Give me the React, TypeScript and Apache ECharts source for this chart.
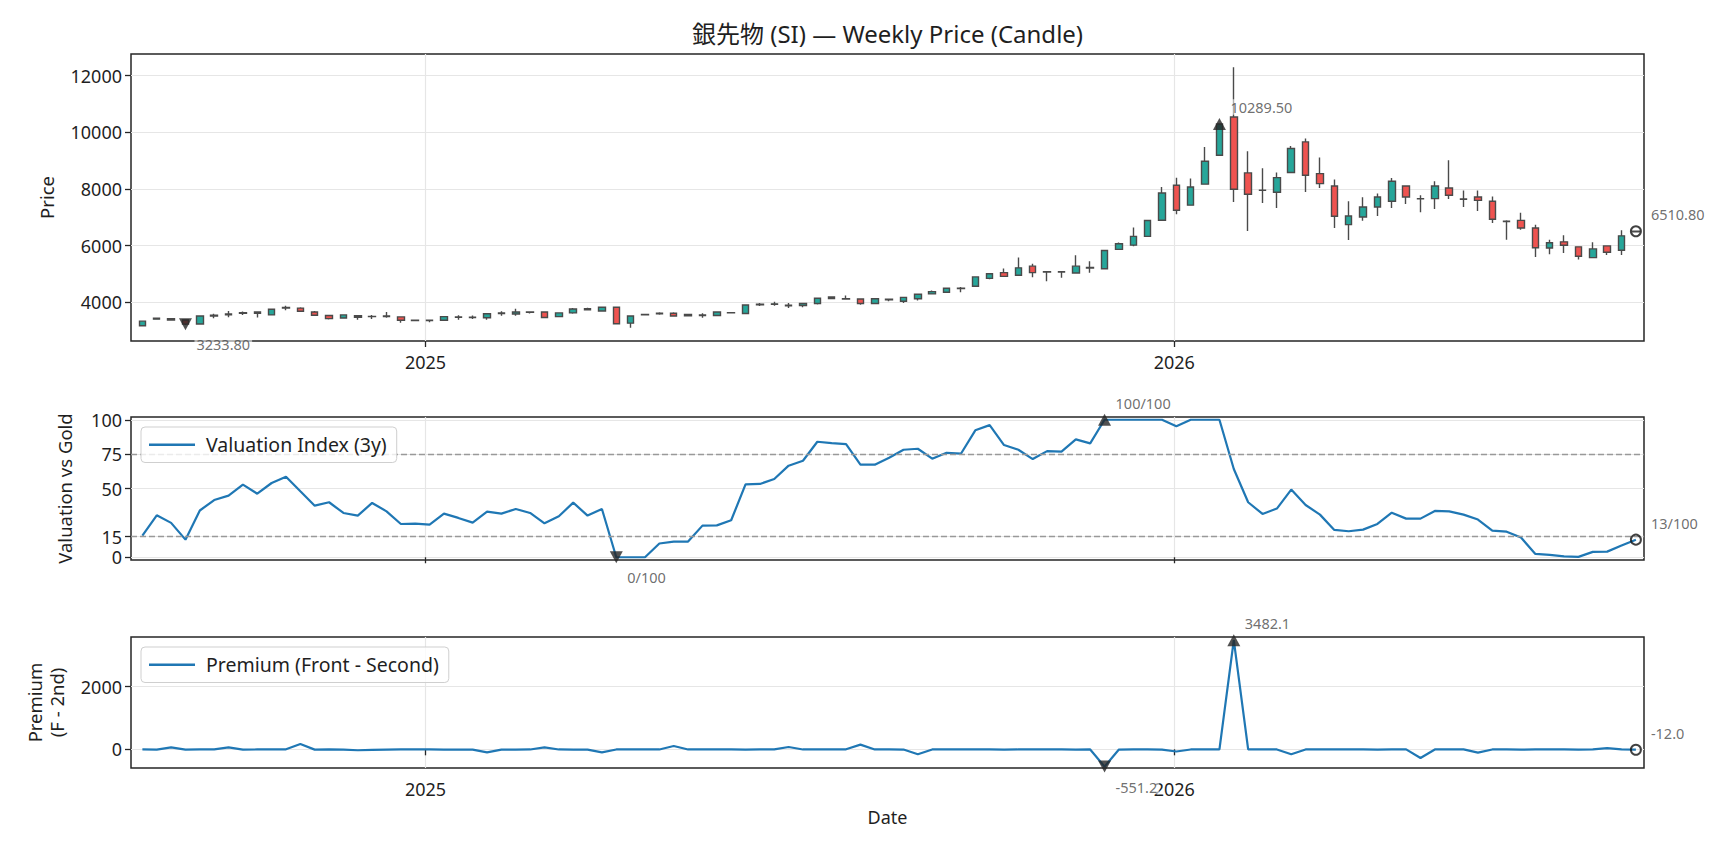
import React, { useEffect, useRef } from "react";
import * as echarts from "echarts";

// ---------- data ----------
const START_DATE = "2024-08-16"; // first weekly bar (Friday)
const WEEK_COUNT = 105;

const OPEN = [
  3180, 3410, 3430, 3380, 3240, 3520, 3560, 3620, 3660, 3560,
  3800, 3800, 3660, 3540, 3450, 3530, 3500, 3500, 3490, 3370,
  3360, 3370, 3480, 3470, 3460, 3610, 3590, 3660, 3660, 3500,
  3630, 3740, 3700, 3830, 3270, 3560, 3600, 3620, 3530, 3540,
  3540, 3630, 3610, 3920, 3930, 3880, 3890, 3960, 4190, 4120,
  4120, 3960, 4090, 4040, 4130, 4300, 4360, 4490, 4570, 4850,
  5050, 4960, 5280, 5070, 5070, 5040, 5210, 5190, 5870, 6020,
  6330, 6900, 8130, 7430, 8170, 9190, 10540, 8567, 7950, 7884,
  8580, 9661, 8543, 8108, 6742, 7013, 7366, 7566, 8108, 7650,
  7660, 8037, 7640, 7719, 7566, 6850, 6895, 6625, 5919, 6136,
  5959, 5581, 5994, 5841, 6490,
];
const CLOSE = [
  3340, 3440, 3380, 3233.8, 3520, 3550, 3590, 3640, 3620, 3760,
  3820, 3690, 3550, 3430, 3560, 3480, 3510, 3520, 3370, 3360,
  3370, 3500, 3490, 3480, 3600, 3630, 3660, 3650, 3470, 3630,
  3770, 3780, 3830, 3250, 3520, 3580, 3620, 3520, 3580, 3560,
  3660, 3640, 3910, 3940, 3950, 3900, 3960, 4150, 4140, 4130,
  3960, 4130, 4110, 4180, 4290, 4380, 4500, 4500, 4900, 5010,
  4920, 5220, 5050, 5080, 5080, 5280, 5230, 5830, 6070, 6330,
  6890, 7860, 7250, 8070, 8980, 10289.5, 7990, 7813, 7960, 8402,
  9426, 8484, 8190, 7037, 7049, 7366, 7719, 8273, 7719, 7660,
  8108, 7778, 7650, 7600, 6931, 6860, 6625, 5930, 6107, 6018,
  5628, 5888, 5770, 6348, 6510.8,
];
const LOW = [
  3160, 3400, 3370, 3200, 3220, 3440, 3480, 3560, 3470, 3540,
  3720, 3680, 3530, 3400, 3440, 3390, 3420, 3460, 3280, 3350,
  3300, 3360, 3390, 3420, 3390, 3530, 3530, 3610, 3460, 3490,
  3600, 3720, 3690, 3240, 3105, 3540, 3570, 3500, 3510, 3460,
  3530, 3620, 3600, 3870, 3880, 3800, 3830, 3930, 4110, 4110,
  3920, 3950, 4040, 3976, 4070, 4290, 4340, 4360, 4550, 4820,
  4900, 4940, 4890, 4750, 4870, 5020, 5050, 5170, 5850, 5980,
  6320, 6880, 7110, 7410, 8150, 9170, 7540, 6519, 7510, 7331,
  8560, 7896, 8037, 6625, 6200, 6884, 7048, 7331, 7472, 7178,
  7296, 7649, 7366, 7225, 6801, 6213, 6566, 5600, 5695, 5746,
  5510, 5570, 5676, 5676, 6470,
];
const HIGH = [
  3360, 3460, 3440, 3390, 3530, 3600, 3700, 3680, 3680, 3790,
  3880, 3830, 3700, 3560, 3570, 3560, 3560, 3660, 3500, 3380,
  3380, 3510, 3550, 3540, 3620, 3690, 3780, 3690, 3670, 3640,
  3800, 3810, 3840, 3840, 3530, 3600, 3650, 3650, 3600, 3620,
  3670, 3660, 3920, 3980, 4020, 3980, 3980, 4170, 4200, 4240,
  4130, 4140, 4140, 4200, 4300, 4420, 4520, 4540, 4910, 5040,
  5200, 5580, 5360, 5090, 5090, 5660, 5450, 5850, 6110, 6640,
  6900, 8070, 8400, 8370, 9480, 10300, 12290, 9332, 8730, 8580,
  9520, 9780, 9108, 8331, 7566, 7708, 7837, 8390, 8130, 7778,
  8273, 9014, 7943, 7943, 7731, 6900, 7166, 6742, 6213, 6372,
  5980, 6124, 6010, 6549, 6540,
];
const VALUATION = [
  15.7, 30.5, 25, 12.8, 34, 41.6, 44.8, 52.8, 46.2, 54,
  58.6, 48, 37.5, 40, 32.2, 30.3, 39.5, 33.4, 24.2, 24.5,
  23.7, 31.7, 28.6, 25.2, 33.2, 31.7, 35.1, 32.2, 24.7, 29.8,
  39.7, 30.3, 35.1, 0, 0, 0, 10, 11.4, 11.4, 23,
  23.2, 26.9, 53, 53.3, 56.9, 66.6, 70.2, 84, 83, 82.3,
  67.3, 67.3, 72.4, 78.2, 78.9, 71.7, 76, 75.3, 92.3, 96.1,
  81.6, 78.2, 71.4, 77.2, 76.8, 85.7, 82.8, 100, 100, 100,
  100, 100, 95.2, 100, 100, 100, 64.2, 40, 31.5, 35.4,
  49.2, 38, 31, 19.9, 18.9, 20.1, 24.2, 32.4, 28.1, 28.1,
  33.7, 33.4, 31, 27.4, 19.4, 18.6, 14.3, 2.4, 1.7, 0.7,
  0.3, 3.9, 4.1, 8.5, 12.8,
];
const PREMIUM = [
  -5, -8, 64, -10, -5, 0, 64, -8, -5, -3,
  0, 170, -10, -5, -8, -30, -15, -10, -5, -3,
  -2, -8, -10, -8, -96, -10, -8, -5, 64, -5,
  -8, -10, -96, -5, -3, 0, -5, 106, -5, -3,
  -5, 0, -8, -5, -3, 74, -5, -3, -5, 0,
  150, -5, -3, -8, -160, -5, -3, 0, -5, -3,
  -8, -5, -3, -5, -3, -8, -5, -551.2, -8, -5,
  -3, -10, -70, -5, -3, -5, 3482.1, -5, -3, -5,
  -160, -5, -3, 0, -5, -3, -8, -5, -3, -275,
  -5, -3, 0, -105, -5, -3, -8, -5, -3, -5,
  -8, -5, 40, -5, -12.0,
];

const X_TICK_DATES = ["2025-01-01", "2026-01-01"];
const PRICE_TICKS = [4000, 6000, 8000, 10000, 12000];
const VAL_TICKS = [0, 15, 50, 75, 100];
const VAL_BANDS = [15, 75];
const PREM_TICKS = [0, 2000];

const TITLE = "銀先物 (SI) — Weekly Price (Candle)";
const VAL_NAME = "Valuation Index (3y)";
const PREM_NAME = "Premium (Front - Second)";

// ---------- helpers ----------
const DAY = 86400000;
const FONT = "'Noto Sans', 'Noto Sans CJK JP', sans-serif";
const INK = "#262626";
const TEXT = "#1f1f1f";
const BLUE = "#1f77b4";

const startMs = Date.parse(START_DATE + "T00:00:00Z");
const DATES: number[] = [];
for (let i = 0; i < WEEK_COUNT; i++) DATES.push(startMs + i * 7 * DAY);
const X_TICKS = X_TICK_DATES.map((d) => Date.parse(d + "T00:00:00Z"));
const X_MIN = DATES[0] - 5.55 * DAY;
const X_MAX = DATES[DATES.length - 1] + 3.95 * DAY;

function argMax(a: number[]) {
  let k = 0;
  for (let i = 1; i < a.length; i++) if (a[i] > a[k]) k = i;
  return k;
}
function argMin(a: number[]) {
  let k = 0;
  for (let i = 1; i < a.length; i++) if (a[i] < a[k]) k = i;
  return k;
}

const DOWN_TRI = "path://M0,0 L12,0 L6,11 Z";

function marker(
  x: number,
  y: number,
  kind: "up" | "down" | "last",
  text: string
) {
  const dx = kind === "last" ? 13 : 9;
  const dy = kind === "down" ? 20 : -17;
  const base: any = {
    value: [x, y],
    label: {
      show: true,
      formatter: text,
      position: "inside",
      align: "left",
      verticalAlign: "middle",
      offset: [dx, dy],
      color: "#4a4a4a",
      fontSize: 14.5,
      fontFamily: FONT,
      backgroundColor: "rgba(255,255,255,0.7)",
      padding: [1, 2, 0, 2],
    },
  };
  if (kind === "up") {
    base.symbol = "triangle";
    base.symbolSize = [13, 12];
    base.itemStyle = { color: INK };
  } else if (kind === "down") {
    base.symbol = DOWN_TRI;
    base.symbolSize = [13, 12];
    base.itemStyle = { color: INK };
  } else {
    base.symbol = "circle";
    base.symbolSize = 10;
    base.itemStyle = { color: "rgba(0,0,0,0)", borderColor: "#111", borderWidth: 2 };
  }
  return base;
}

function buildOption() {
  const last = WEEK_COUNT - 1;
  const iMaxP = argMax(CLOSE);
  const iMinP = argMin(CLOSE);
  const iMaxV = argMax(VALUATION);
  const iMinV = argMin(VALUATION);
  const iMaxR = argMax(PREMIUM);
  const iMinR = argMin(PREMIUM);

  const grids = [
    { left: 131, right: 84, top: 54, height: 287 },
    { left: 131, right: 84, top: 417, height: 143 },
    { left: 131, right: 84, top: 637, height: 131 },
  ].map((g) => ({
    ...g,
    show: true,
    borderColor: INK,
    borderWidth: 1.5,
    backgroundColor: "rgba(0,0,0,0)",
    containLabel: false,
  }));

  const xAxes = [0, 1, 2].map((k) => ({
    type: "value",
    gridIndex: k,
    min: X_MIN,
    max: X_MAX,
    position: "bottom",
    axisLine: { show: false },
    axisTick: {
      show: true,
      customValues: X_TICKS,
      length: 6,
      lineStyle: { color: INK, width: 1.3 },
    },
    axisLabel: {
      show: k !== 1,
      customValues: X_TICKS,
      formatter: (v: number) => String(new Date(v).getUTCFullYear()),
      fontSize: 18,
      color: TEXT,
      margin: 12,
      fontFamily: FONT,
    },
    splitLine: { show: true, lineStyle: { color: "#e6e6e6", width: 1.2 } },
    name: k === 2 ? "Date" : "",
    nameLocation: "middle",
    nameGap: 40,
    nameTextStyle: { fontSize: 18, color: TEXT, fontFamily: FONT },
  }));

  const yBase = (k: number, min: number, max: number, ticks: number[], name: string, gap: number) => ({
    type: "value",
    gridIndex: k,
    min,
    max,
    axisLine: { show: false },
    axisTick: {
      show: true,
      customValues: ticks,
      length: 6,
      lineStyle: { color: INK, width: 1.3 },
    },
    axisLabel: {
      customValues: ticks,
      formatter: (v: number) => String(v),
      fontSize: 18,
      color: TEXT,
      margin: 9,
      fontFamily: FONT,
    },
    splitLine: { show: true, lineStyle: { color: "#e6e6e6", width: 1.2 } },
    name,
    nameLocation: "middle",
    nameGap: gap,
    nameTextStyle: { fontSize: 18.5, color: TEXT, fontFamily: FONT, lineHeight: 22 },
  });

  const yAxes = [
    yBase(0, 2640, 12760, PRICE_TICKS, "Price", 74),
    yBase(1, -2, 102, VAL_TICKS, "Valuation vs Gold", 56),
    yBase(2, -596, 3582, PREM_TICKS, "Premium\n(F - 2nd)", 64),
  ];

  const candles = DATES.map((d, i) => [d, OPEN[i], CLOSE[i], LOW[i], HIGH[i]]);

  const legendCommon = {
    left: 141,
    orient: "vertical",
    icon: "rect",
    itemWidth: 46,
    itemHeight: 2.5,
    selectedMode: false,
    textStyle: {
      fontSize: 19.5,
      color: TEXT,
      fontFamily: FONT,
      padding: [0, 0, 0, 6],
    },
    padding: [8, 10, 8, 8],
    backgroundColor: "rgba(255,255,255,0.8)",
    borderColor: "#cfcfcf",
    borderWidth: 1,
    borderRadius: 4,
    z: 10,
  };

  return {
    animation: false,
    backgroundColor: "#ffffff",
    textStyle: { fontFamily: FONT },
    grid: grids,
    xAxis: xAxes,
    yAxis: yAxes,
    legend: [
      { ...legendCommon, top: 427, data: [VAL_NAME] },
      { ...legendCommon, top: 647, data: [PREM_NAME] },
    ],
    graphic: [
      {
        type: "text",
        x: 887.5,
        y: 33.5,
        style: {
          text: TITLE,
          align: "center",
          verticalAlign: "middle",
          fontSize: 24,
          fontFamily: FONT,
          fill: TEXT,
        },
      },
    ],
    series: [
      {
        type: "candlestick",
        name: "Price",
        xAxisIndex: 0,
        yAxisIndex: 0,
        encode: { x: 0, y: [1, 2, 3, 4] },
        data: candles,
        barWidth: 7,
        itemStyle: {
          color: "#26a69a",
          color0: "#ef5350",
          borderColor: "#4a4a4a",
          borderColor0: "#4a4a4a",
          borderColorDoji: "#4a4a4a",
          borderWidth: 1.4,
        },
        z: 2,
      },
      {
        type: "scatter",
        name: "priceMarks",
        xAxisIndex: 0,
        yAxisIndex: 0,
        data: [
          marker(DATES[iMaxP], CLOSE[iMaxP], "up", CLOSE[iMaxP].toFixed(2)),
          marker(DATES[iMinP], CLOSE[iMinP], "down", CLOSE[iMinP].toFixed(2)),
          marker(DATES[last], CLOSE[last], "last", CLOSE[last].toFixed(2)),
        ],
        z: 5,
        clip: false,
      },
      {
        type: "line",
        name: VAL_NAME,
        xAxisIndex: 1,
        yAxisIndex: 1,
        data: DATES.map((d, i) => [d, VALUATION[i]]),
        showSymbol: false,
        symbol: "none",
        lineStyle: { color: BLUE, width: 2.2 },
        itemStyle: { color: BLUE },
        z: 3,
        markLine: {
          silent: true,
          symbol: ["none", "none"],
          label: { show: false },
          lineStyle: { type: [6, 3], color: "#999999", width: 1.4 },
          data: VAL_BANDS.map((v) => ({ yAxis: v })),
        },
      },
      {
        type: "scatter",
        name: "valMarks",
        xAxisIndex: 1,
        yAxisIndex: 1,
        data: [
          marker(DATES[iMaxV], VALUATION[iMaxV], "up", Math.round(VALUATION[iMaxV]) + "/100"),
          marker(DATES[iMinV], VALUATION[iMinV], "down", Math.round(VALUATION[iMinV]) + "/100"),
          marker(DATES[last], VALUATION[last], "last", Math.round(VALUATION[last]) + "/100"),
        ],
        z: 5,
        clip: false,
      },
      {
        type: "line",
        name: PREM_NAME,
        xAxisIndex: 2,
        yAxisIndex: 2,
        data: DATES.map((d, i) => [d, PREMIUM[i]]),
        showSymbol: false,
        symbol: "none",
        lineStyle: { color: BLUE, width: 2.2 },
        itemStyle: { color: BLUE },
        z: 3,
      },
      {
        type: "scatter",
        name: "premMarks",
        xAxisIndex: 2,
        yAxisIndex: 2,
        data: [
          marker(DATES[iMaxR], PREMIUM[iMaxR], "up", PREMIUM[iMaxR].toFixed(1)),
          marker(DATES[iMinR], PREMIUM[iMinR], "down", PREMIUM[iMinR].toFixed(1)),
          marker(DATES[last], PREMIUM[last], "last", PREMIUM[last].toFixed(1)),
        ],
        z: 5,
        clip: false,
      },
    ],
  };
}

export default function App() {
  const ref = useRef<HTMLDivElement>(null);
  useEffect(() => {
    if (!ref.current) return;
    const chart = echarts.init(ref.current, null, { renderer: "svg" });
    chart.setOption(buildOption() as any);
    return () => chart.dispose();
  }, []);
  return (
    <div
      ref={ref}
      style={{
        position: "fixed",
        left: 0,
        top: 0,
        width: 1728,
        height: 849,
        background: "#fff",
      }}
    />
  );
}
